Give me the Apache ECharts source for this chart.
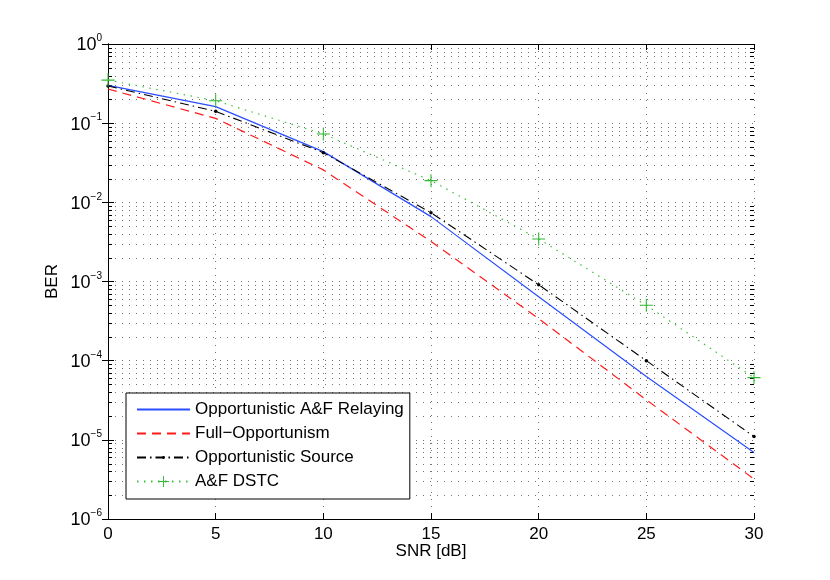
<!DOCTYPE html>
<html><head><meta charset="utf-8">
<script src="https://cdn.jsdelivr.net/npm/echarts@6/dist/echarts.min.js"></script>
<style>html,body{margin:0;padding:0;background:#fff}#c{width:830px;height:580px}</style>
</head><body><div id="c"></div>
<script>
// ---- data ----
const snr = [0, 5, 10, 15, 20, 25, 30];
const relaying = [0.30, 0.162, 0.0437, 0.0066, 6.4e-4, 6.3e-5, 6.9e-6];
const fullOpp = [0.27, 0.115, 0.0257, 3.2e-3, 3.4e-4, 3.2e-5, 3.2e-6];
const oppSource = [0.295, 0.141, 0.0424, 0.0074, 9.1e-4, 1.0e-4, 1.1e-5];
const dstc = [0.35, 0.192, 0.073, 0.0188, 3.45e-3, 5.0e-4, 6.1e-5];
const seriesNames = ['Opportunistic A&F Relaying', 'Full\u2212Opportunism', 'Opportunistic Source', 'A&F DSTC'];
const xTickLabels = ['0', '5', '10', '15', '20', '25', '30'];
const yDecadeExps = [-6, -5, -4, -3, -2, -1];
const minorMultipliers = [2, 3, 4, 5, 6, 7, 8, 9];
// ----
const FONT = '"Liberation Sans", Arial, sans-serif';
const pair = (xs, ys) => xs.map((x, i) => [x, ys[i]]);
const minorVals = [];
yDecadeExps.forEach(e => minorMultipliers.forEach(m => minorVals.push([0, m * Math.pow(10, e)])));
const DOT = [1, 6];
const GRIDC = 'rgba(0,0,0,0.55)';
const plusPath = 'path://M5.5,0 h1 v5.5 h5.5 v1 h-5.5 v5.5 h-1 v-5.5 h-5.5 v-1 h5.5 z';
const dotPath = 'path://M0,0 M14,14 M5.25,7 A1.75,1.75 0 1,0 8.75,7 A1.75,1.75 0 1,0 5.25,7 Z';

const chart = echarts.init(document.getElementById('c'), null, {renderer: 'canvas'});
chart.setOption({
  backgroundColor: '#fff',
  animation: false,
  textStyle: {fontFamily: FONT},
  grid: {left: 108, right: 76, top: 44, bottom: 61, containLabel: false},
  legend: {
    orient: 'vertical', left: 126, top: 393,
    backgroundColor: '#fff', borderColor: '#000', borderWidth: 1, borderRadius: 0,
    padding: [8, 6, 9, 10], itemGap: 7, itemWidth: 53, itemHeight: 14,
    textStyle: {fontFamily: FONT, fontSize: 17, color: '#000'},
    data: [
      {name: seriesNames[0], itemStyle: {opacity: 0}},
      {name: seriesNames[1], itemStyle: {opacity: 0}},
      {name: seriesNames[2]},
      {name: seriesNames[3]}
    ]
  },
  xAxis: [{
    type: 'value', min: 0, max: 30, interval: 5,
    name: 'SNR [dB]', nameLocation: 'middle', nameGap: 24, nameMoveOverlap: false,
    nameTextStyle: {fontFamily: FONT, fontSize: 17, color: '#000'},
    axisLine: {lineStyle: {color: '#000', width: 1}},
    axisTick: {inside: true, length: 6, lineStyle: {color: '#000'}},
    axisLabel: {fontFamily: FONT, fontSize: 17, color: '#000', margin: 7,
      formatter: v => xTickLabels[snr.indexOf(v)] ?? ''},
    splitLine: {show: true, lineStyle: {color: GRIDC, type: DOT, width: 1}}
  }, {
    type: 'value', min: 0, max: 30, interval: 5, position: 'top',
    axisLine: {show: true, lineStyle: {color: '#000', width: 1}},
    axisTick: {show: true, inside: true, length: 6, lineStyle: {color: '#000'}},
    axisLabel: {show: false}, splitLine: {show: false}
  }],
  yAxis: [{
    type: 'log', logBase: 10, min: 1e-6, max: 1,
    name: 'BER', nameLocation: 'middle', nameGap: 47, nameMoveOverlap: false,
    nameTextStyle: {fontFamily: FONT, fontSize: 17, color: '#000'},
    axisLine: {show: true, lineStyle: {color: '#000', width: 1}},
    axisTick: {show: true, inside: true, length: 6, lineStyle: {color: '#000'}},
    axisLabel: {
      margin: 6, color: '#000',
      formatter: v => {
        const e = Math.round(Math.log10(v));
        return '{b|10}{s|' + (e < 0 ? '\u2212' + (-e) : String(e)) + '}';
      },
      rich: {
        b: {fontFamily: FONT, fontSize: 18, color: '#000', verticalAlign: 'bottom'},
        s: {fontFamily: FONT, fontSize: 10, color: '#000', padding: [0, 0, 11, 0], verticalAlign: 'bottom'}
      }
    },
    splitLine: {show: true, lineStyle: {color: GRIDC, type: DOT, width: 1}}
  }, {
    type: 'log', logBase: 10, min: 1e-6, max: 1, position: 'right',
    axisLine: {show: true, lineStyle: {color: '#000', width: 1}},
    axisTick: {show: true, inside: true, length: 6, lineStyle: {color: '#000'}},
    axisLabel: {show: false}, splitLine: {show: false}
  }],
  series: [
    {
      type: 'custom', silent: true, z: 1, clip: false,
      xAxisIndex: 0, yAxisIndex: 0,
      data: minorVals,
      renderItem: (params, api) => {
        const cs = params.coordSys;
        const y = Math.round(api.coord([0, api.value(1)])[1]) + 0.5;
        return {
          type: 'group',
          children: [
            {type: 'line', shape: {x1: cs.x, y1: y, x2: cs.x + cs.width, y2: y},
              style: {stroke: GRIDC, lineWidth: 1, lineDash: DOT}},
            {type: 'line', shape: {x1: cs.x, y1: y, x2: cs.x + 4, y2: y},
              style: {stroke: '#000', lineWidth: 1}},
            {type: 'line', shape: {x1: cs.x + cs.width - 4, y1: y, x2: cs.x + cs.width, y2: y},
              style: {stroke: '#000', lineWidth: 1}}
          ]
        };
      }
    },
    {
      name: seriesNames[0], type: 'line', data: pair(snr, relaying), symbol: 'none', z: 5,
      lineStyle: {color: '#2a4dff', width: 1.2, type: 'solid'}, itemStyle: {color: '#2a4dff'}
    },
    {
      name: seriesNames[1], type: 'line', data: pair(snr, fullOpp), symbol: 'none', z: 5,
      lineStyle: {color: '#ff1a1a', width: 1.2, type: [9, 6]}, itemStyle: {color: '#ff1a1a'}
    },
    {
      name: seriesNames[2], type: 'line', data: pair(snr, oppSource), symbol: dotPath, symbolSize: 14, z: 5,
      lineStyle: {color: '#000', width: 1.1, type: [9, 4, 1.5, 4]}, itemStyle: {color: '#000'}
    },
    {
      name: seriesNames[3], type: 'line', data: pair(snr, dstc), symbol: plusPath, symbolSize: 13, z: 5,
      lineStyle: {color: '#3fbf3f', width: 1.2, type: [1.5, 5.5]}, itemStyle: {color: '#33b833'}
    }
  ]
});
</script></body></html>
